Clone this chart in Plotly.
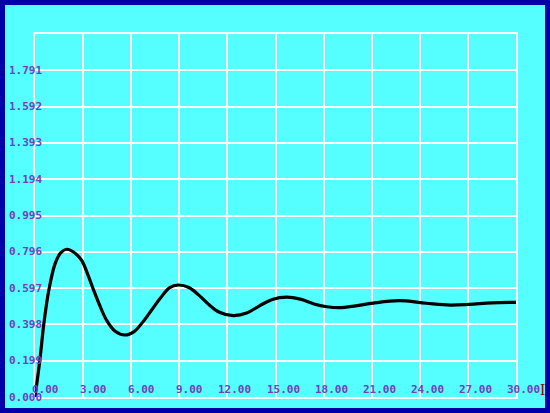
import plotly.graph_objects as go

# response curve
t = [0.0, 0.3, 0.55, 0.85, 1.25, 1.6, 1.97, 2.4, 2.9, 3.3, 3.64, 4.0, 4.47, 5.0, 5.6,
     6.2, 6.8, 7.3, 7.8, 8.4, 8.94, 9.6, 10.2, 10.8, 11.5, 12.37, 13.2, 14.0, 14.8,
     15.7, 16.6, 17.4, 18.2, 19.0, 20.0, 21.1, 22.7, 24.4, 25.9, 27.1, 28.5, 30.0]
y = [0.0, 0.20, 0.40, 0.58, 0.73, 0.79, 0.81, 0.795, 0.75, 0.67, 0.59, 0.51, 0.42, 0.36, 0.34,
     0.36, 0.42, 0.48, 0.54, 0.60, 0.614, 0.60, 0.56, 0.51, 0.465, 0.446, 0.46, 0.50, 0.535,
     0.548, 0.535, 0.51, 0.495, 0.49, 0.50, 0.515, 0.528, 0.514, 0.504, 0.508, 0.516, 0.519]

x_ticks = [0, 3, 6, 9, 12, 15, 18, 21, 24, 27, 30]
y_ticks = [0.000, 0.199, 0.398, 0.597, 0.796, 0.995, 1.194, 1.393, 1.592, 1.791]
y_top = 1.99

cyan = "#55FFFF"
border = "#0000A8"
label_col = "#7040C0"
lab_font = dict(family="DejaVu Sans Mono", size=11, color=label_col)

fig = go.Figure()
fig.add_trace(go.Scatter(
    x=t, y=y, mode="lines",
    line=dict(color="black", width=3.2, shape="spline", smoothing=1.0),
    hoverinfo="skip", showlegend=False,
))

annotations = []
for v in x_ticks:
    annotations.append(dict(
        x=v, y=0, xref="x", yref="paper", text="<b>%.2f</b>" % v,
        showarrow=False, xanchor="right", yanchor="middle",
        xshift=26, yshift=8, font=lab_font,
    ))
for v in y_ticks:
    annotations.append(dict(
        x=0, y=v, xref="paper", yref="y", text="<b>%.3f</b>" % v,
        showarrow=False, xanchor="right", yanchor="middle",
        xshift=9, font=lab_font,
    ))
annotations.append(dict(
    x=1, y=0, xref="paper", yref="paper", text="I", showarrow=False,
    xanchor="left", yanchor="middle", xshift=22, yshift=8,
    font=dict(family="Liberation Serif", size=16, color="#A00000"),
))

W, H = 550, 413
ml, mr, mt, mb = 35, 34, 34, 16
pw, ph = W - ml - mr, H - mt - mb

fig.update_layout(
    width=W, height=H,
    margin=dict(l=ml, r=mr, t=mt, b=mb, pad=0),
    paper_bgcolor=cyan, plot_bgcolor=cyan,
    xaxis=dict(range=[0, 30], tickvals=x_ticks, showticklabels=False,
               showgrid=True, gridcolor="white", gridwidth=1.5, zeroline=False,
               showline=True, linecolor="white", linewidth=1.5, mirror=True),
    yaxis=dict(range=[0, y_top], tickvals=y_ticks, showticklabels=False,
               showgrid=True, gridcolor="white", gridwidth=1.5, zeroline=False,
               showline=True, linecolor="white", linewidth=1.5, mirror=True),
    annotations=annotations,
    shapes=[dict(
        type="rect", xref="paper", yref="paper",
        x0=-ml / pw, x1=(W - ml) / pw, y0=-mb / ph, y1=(H - mb) / ph,
        line=dict(color=border, width=10), fillcolor="rgba(0,0,0,0)",
        layer="above",
    )],
)

fig.write_html("out.html", config={"displayModeBar": False},
               post_script="document.body.style.margin='0';")
